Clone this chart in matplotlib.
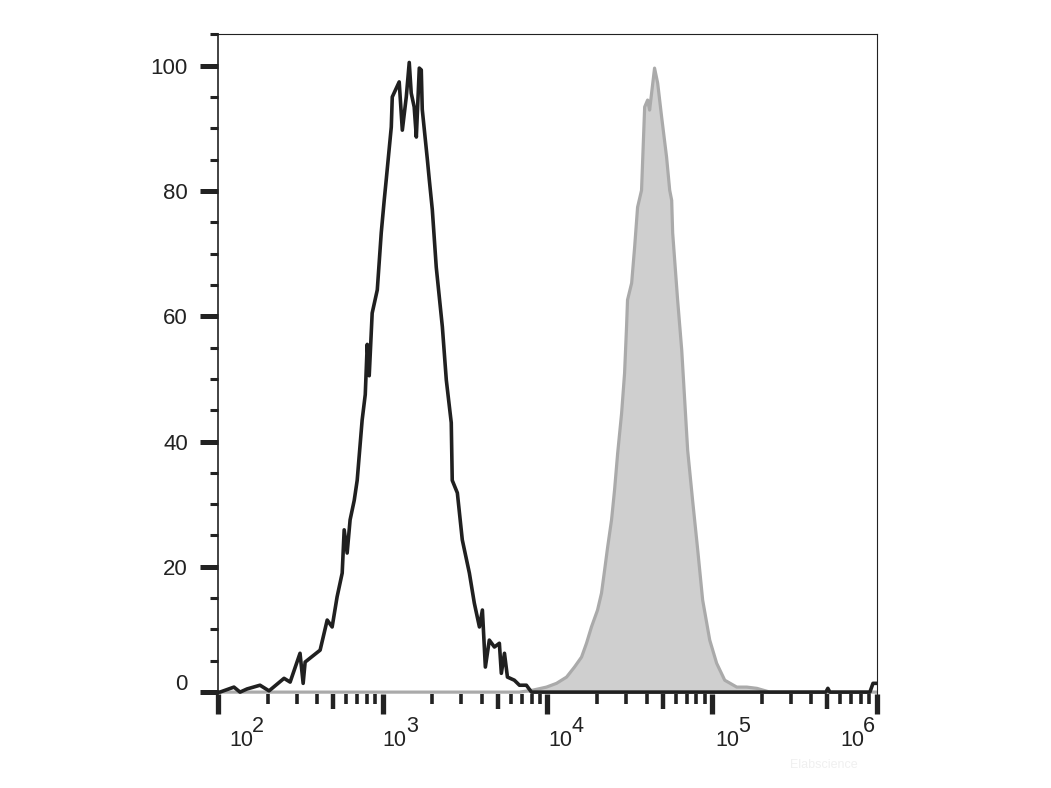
import numpy as np
import matplotlib
matplotlib.use('Agg')
import matplotlib.pyplot as plt
from matplotlib.ticker import FixedLocator, NullFormatter

plt.rcParams['font.family'] = ['Liberation Sans', 'DejaVu Sans']

# Unstained / isotype control (black outline), log10 of intensity and % of max
black_log = [2.000, 2.012, 2.097, 2.134, 2.176, 2.255, 2.310, 2.401, 2.438, 2.498,
             2.517, 2.529, 2.620, 2.663, 2.693, 2.723, 2.754, 2.766, 2.784, 2.802,
             2.827, 2.845, 2.875, 2.894, 2.906, 2.918, 2.936, 2.967, 2.991, 3.009,
             3.021, 3.052, 3.058, 3.100, 3.119, 3.143, 3.161, 3.173, 3.191, 3.204,
             3.222, 3.234, 3.240, 3.271, 3.283, 3.301, 3.325, 3.362, 3.386, 3.416,
             3.422, 3.453, 3.483, 3.526, 3.556, 3.587, 3.605, 3.623, 3.647, 3.678,
             3.708, 3.720, 3.739, 3.757, 3.799, 3.830, 3.872, 3.903, 5.690, 5.702,
             5.714, 5.957, 5.976, 6.000]
black_pct = [0.0, 0.0, 0.8, 0.0, 0.5, 1.1, 0.2, 2.2, 1.6, 6.2,
             1.4, 4.8, 6.7, 11.5, 10.4, 15.2, 19.0, 25.9, 22.2, 27.5,
             30.6, 33.8, 43.4, 47.5, 55.5, 50.5, 60.5, 64.2, 73.3, 78.5,
             81.7, 90.2, 95.0, 97.4, 89.7, 95.0, 100.5, 95.6, 93.4, 88.6,
             99.6, 99.3, 93.0, 85.0, 81.7, 77.0, 67.8, 58.3, 49.8, 43.0,
             33.8, 31.8, 24.3, 19.0, 14.2, 10.4, 13.1, 4.0, 8.3, 7.2,
             7.8, 3.0, 6.2, 2.4, 1.9, 1.1, 1.1, 0.0, 0.0, 0.6,
             0.0, 0.0, 1.4, 1.4]

# Stained sample (grey filled)
grey_log = [2.000, 3.830, 3.909, 3.994, 4.055, 4.116, 4.164, 4.207, 4.237, 4.267,
            4.304, 4.328, 4.347, 4.365, 4.389, 4.407, 4.426, 4.450, 4.468, 4.480,
            4.486, 4.511, 4.529, 4.547, 4.571, 4.590, 4.608, 4.620, 4.650, 4.669,
            4.693, 4.723, 4.742, 4.754, 4.760, 4.790, 4.815, 4.833, 4.851, 4.881,
            4.912, 4.942, 4.985, 5.027, 5.076, 5.149, 5.210, 5.271, 5.350, 6.000]
grey_pct = [0.0, 0.0, 0.3, 0.8, 1.4, 2.4, 4.0, 5.6, 7.8, 10.4,
            13.1, 15.8, 19.5, 23.1, 27.5, 32.2, 38.1, 44.5, 50.9, 58.3,
            62.6, 65.3, 71.0, 77.4, 80.1, 93.4, 94.5, 92.9, 99.6, 97.2,
            91.8, 85.4, 80.1, 78.5, 73.3, 62.6, 54.6, 46.6, 38.6, 30.6,
            22.7, 14.7, 8.3, 4.6, 1.9, 0.8, 0.8, 0.6, 0.0, 0.0]

y_ticks = [0, 20, 40, 60, 80, 100]
decades = [2, 3, 4, 5, 6]

fig = plt.figure(figsize=(10.51, 7.88), dpi=100)
ax = fig.add_axes([0.2074, 0.1193, 0.6270, 0.8372])

gx = 10 ** np.array(grey_log)
ax.fill_between(gx, grey_pct, 0, color='#cfcfcf', lw=0, zorder=1)
ax.plot(gx, grey_pct, color='#aaaaaa', lw=2.3, zorder=2)
ax.plot(10 ** np.array(black_log), black_pct, color='#202020', lw=2.6, zorder=3)

ax.set_xscale('log')
ax.set_xlim(1e2, 1e6)
ax.set_ylim(-0.3, 105)

# spines
ax.spines['bottom'].set_visible(False)
ax.spines['left'].set_linewidth(1.2)
ax.spines['top'].set_linewidth(0.8)
ax.spines['right'].set_linewidth(0.8)
for s in ax.spines.values():
    s.set_color('#222222')

# y axis
ax.yaxis.set_major_locator(FixedLocator(y_ticks))
ax.yaxis.set_minor_locator(FixedLocator([v for v in range(5, 106, 5) if v % 20]))
ax.set_yticklabels([''] + [str(v) for v in y_ticks[1:]])
ax.tick_params(axis='y', which='major', length=13, width=3.6, color='#222222',
               pad=8.6, labelsize=16, labelcolor='#222222')
ax.tick_params(axis='y', which='minor', length=6, width=2.2, color='#222222')
ax.annotate('0', xy=(0, 0), xycoords=ax.get_yaxis_transform(), xytext=(-22.3, 5.8),
            textcoords='offset points', ha='right', va='center', fontsize=16,
            color='#222222')

# x axis
ax.xaxis.set_major_locator(FixedLocator([10.0 ** d for d in decades]))
ax.xaxis.set_minor_locator(FixedLocator([m * 10.0 ** d for d in decades[:-1]
                                         for m in (2, 3, 4, 6, 7, 8, 9)]))
ax.xaxis.set_major_formatter(NullFormatter())
ax.xaxis.set_minor_formatter(NullFormatter())
ax.tick_params(axis='x', which='major', length=14.4, width=3.8, color='#222222')
ax.tick_params(axis='x', which='minor', length=7, width=2.6, color='#222222')

sec = ax.secondary_xaxis('bottom')
sec.set_xticks([5 * 10.0 ** d for d in decades[:-1]])
sec.xaxis.set_major_formatter(NullFormatter())
sec.tick_params(axis='x', which='major', length=11, width=3.2, color='#222222')
sec.xaxis.set_minor_locator(FixedLocator([]))
sec.spines['bottom'].set_visible(False)

label_shift = [8, 0, 1, 2, -26.6]  # points from tick to start of "10"
for d, sh in zip(decades, label_shift):
    tr = ax.get_xaxis_transform()
    ax.annotate('10', xy=(10.0 ** d, 0), xycoords=tr, xytext=(sh, -33.5),
                textcoords='offset points', ha='left', va='center', fontsize=15.5,
                color='#222222', annotation_clip=False)
    ax.annotate(str(d), xy=(10.0 ** d, 0), xycoords=tr, xytext=(sh + 16.6, -23.5),
                textcoords='offset points', ha='left', va='center', fontsize=15.5,
                color='#222222', annotation_clip=False)

fig.text(0.752, 0.026, 'Elabscience', fontsize=9, color='#f0f0f0')

fig.savefig('out.png', dpi=100)
